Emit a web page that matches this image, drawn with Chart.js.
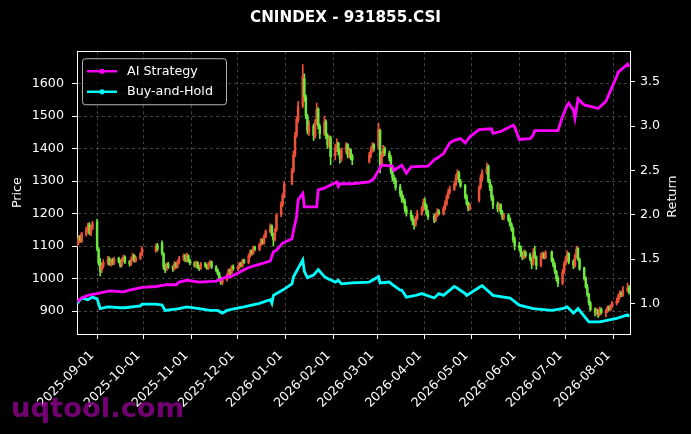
<!DOCTYPE html>
<html><head><meta charset="utf-8">
<script src="https://cdn.jsdelivr.net/npm/chart.js@4.4.1/dist/chart.umd.min.js"></script>
<style>html,body{margin:0;padding:0;background:#000;}canvas{display:block;}</style>
</head><body>
<canvas id="c" width="691" height="434"></canvas>
<script>
// ---------- data ----------
const chartTitle = 'CNINDEX - 931855.CSI';
const firstDay = '2025-08-19';
const lastDay = '2026-08-11';
const holidays = ['2025-10-01','2025-10-02','2025-10-03','2025-10-06','2025-10-07','2025-10-08',
  '2026-01-01','2026-01-02','2026-02-16','2026-02-17','2026-02-18','2026-02-19','2026-02-20','2026-02-23',
  '2026-04-06','2026-05-01','2026-05-04','2026-05-05','2026-06-19'];

const xTickLabels = ['2025-09-01','2025-10-01','2025-11-01','2025-12-01','2026-01-01','2026-02-01',
  '2026-03-01','2026-04-01','2026-05-01','2026-06-01','2026-07-01','2026-08-01'];
const priceTicks = [900,1000,1100,1200,1300,1400,1500,1600];
const returnTicks = [1.0,1.5,2.0,2.5,3.0,3.5];

// one value per trading day (month by month)
const opens = [
  1105,1110,1128,1115,1136,1148,1165,1138,1155,
  1175,1088,1050,1025,1038,1048,1060,1044,1056,1047,1062,1053,1041,1057,1066,1052,1044,1058,1071,1054,1062,1074,
  1085,1102,1110,1076,1040,1030,1044,1036,1030,1046,1037,1050,1060,1071,1056,1070,1056,
  1047,1039,1049,1036,1031,1046,1039,1031,1044,1051,1036,1026,1016,1001,986,996,1009,1026,1017,1036,
  1029,1034,1046,1039,1056,1049,1069,1083,1077,1096,1089,1104,1119,1109,1129,1144,1162,1136,1119,1150,1196,1228,1254,
  1292,1332,1382,1442,1488,1532,1615,1558,1498,1452,1468,1438,1482,1522,1468,1447,1482,1438,1408,1432,
  1378,1398,1416,1392,1368,1394,1412,1378,1396,1376,1360,1378,1394,1412,
  1405,1455,1352,1382,1398,1386,1372,1332,1308,1302,1282,1262,1244,1238,1214,1202,1188,1176,1166,1184,1198,1214,
  1236,1222,1202,1192,1179,1194,1206,1198,1214,1229,1249,1266,1274,1289,1311,1326,1299,1286,1252,1231,1214,
  1240,1282,1308,1326,1345,1298,1282,1248,1227,1213,1227,1204,1188,1196,1182,1166,1152,1122,
  1102,1096,1076,1064,1081,1071,1061,1044,1082,1066,1041,1068,1077,1064,1082,1056,1041,1021,1001,986,1019,
  1046,1059,1077,1052,1038,1068,1092,1058,1032,1001,974,951,924,904,894,902,889,906,894,899,912,904,914,
  924,929,944,956,949,964,972
];
const highs = [
  1120,1132,1133,1142,1158,1170,1172,1164,1176,
  1182,1095,1062,1048,1058,1068,1066,1060,1062,1066,1066,1058,1064,1072,1070,1056,1066,1078,1074,1068,1080,1098,
  1106,1108,1116,1080,1045,1048,1050,1040,1052,1050,1056,1068,1076,1074,1078,1074,1060,
  1052,1054,1052,1040,1050,1050,1044,1050,1056,1054,1040,1030,1020,1005,1000,1015,1030,1030,1040,1042,
  1040,1050,1050,1060,1060,1075,1088,1088,1100,1100,1110,1124,1122,1135,1150,1168,1165,1140,1155,1200,1236,1262,1298,
  1340,1392,1450,1498,1545,1658,1630,1565,1505,1485,1475,1490,1540,1525,1475,1500,1488,1445,1440,1438,
  1412,1430,1420,1398,1402,1418,1415,1402,1400,1382,1388,1405,1418,1415,
  1478,1460,1390,1410,1405,1392,1378,1340,1318,1310,1290,1270,1255,1245,1222,1210,1195,1182,1192,1210,1222,1245,
  1248,1228,1210,1198,1202,1215,1212,1222,1240,1258,1275,1285,1298,1320,1335,1330,1305,1290,1258,1236,1232,
  1285,1320,1335,1355,1350,1305,1288,1255,1235,1232,1230,1210,1200,1200,1188,1172,1158,1128,
  1112,1100,1082,1088,1085,1078,1065,1092,1100,1070,1078,1082,1080,1086,1085,1062,1048,1025,1008,1028,1052,
  1068,1085,1080,1058,1075,1100,1095,1062,1035,1005,982,955,930,910,908,905,912,910,905,915,916,920,930,
  940,952,962,960,975,985,978
];
const lows = [
  1098,1104,1112,1110,1130,1142,1135,1132,1150,
  1085,1040,1008,1018,1032,1042,1040,1038,1042,1043,1048,1035,1036,1052,1046,1038,1040,1054,1050,1050,1058,1070,
  1080,1084,1072,1028,1018,1024,1030,1022,1026,1032,1032,1046,1055,1052,1050,1050,1042,
  1035,1034,1030,1024,1028,1034,1028,1028,1040,1030,1020,1010,996,982,980,992,1005,1012,1014,1025,
  1024,1030,1036,1035,1046,1045,1064,1072,1074,1085,1085,1100,1105,1105,1125,1140,1130,1100,1115,1145,1190,1222,1248,
  1288,1325,1375,1435,1480,1525,1545,1492,1445,1440,1425,1432,1475,1460,1430,1440,1430,1400,1402,1350,
  1365,1390,1380,1355,1360,1385,1372,1370,1365,1350,1355,1372,1388,1392,
  1398,1325,1345,1375,1378,1362,1322,1300,1292,1272,1252,1235,1232,1205,1192,1180,1165,1152,1160,1180,1195,1208,
  1212,1195,1182,1172,1175,1190,1195,1195,1210,1225,1245,1260,1270,1285,1305,1295,1280,1245,1225,1208,1210,
  1235,1275,1300,1320,1295,1270,1240,1215,1205,1208,1198,1182,1180,1175,1160,1145,1112,1088,
  1085,1068,1058,1060,1064,1055,1030,1040,1060,1028,1036,1062,1060,1060,1050,1035,1015,992,975,980,1015,
  1040,1052,1045,1030,1035,1062,1055,1025,995,970,945,918,900,885,888,880,885,890,882,895,900,900,910,
  918,925,938,944,945,958,952
];
const closes = [
  1112,1125,1118,1138,1150,1162,1140,1158,1170,
  1092,1048,1022,1040,1050,1062,1045,1055,1048,1060,1052,1040,1058,1065,1050,1045,1060,1070,1055,1063,1075,1092,
  1100,1090,1078,1035,1028,1042,1035,1030,1045,1038,1050,1062,1070,1058,1072,1055,1048,
  1040,1048,1035,1030,1045,1038,1032,1045,1050,1035,1025,1015,1000,988,995,1010,1025,1018,1035,1030,
  1035,1045,1040,1055,1050,1070,1082,1078,1095,1090,1105,1118,1110,1130,1145,1160,1135,1120,1150,1195,1230,1255,1290,
  1330,1380,1440,1490,1530,1625,1560,1500,1455,1470,1440,1480,1520,1470,1445,1480,1440,1410,1430,1375,
  1400,1415,1390,1370,1395,1410,1380,1395,1375,1365,1380,1395,1410,1400,
  1460,1350,1380,1400,1385,1370,1330,1310,1300,1280,1260,1245,1240,1215,1200,1190,1175,1165,1185,1200,1215,1235,
  1220,1200,1190,1180,1195,1205,1200,1215,1230,1250,1265,1275,1290,1310,1325,1300,1285,1250,1230,1215,1225,
  1280,1310,1325,1340,1300,1280,1250,1225,1215,1225,1205,1190,1195,1180,1165,1150,1120,1100,
  1095,1075,1065,1080,1070,1060,1045,1080,1065,1040,1070,1075,1065,1080,1055,1040,1020,1000,985,1020,1045,
  1060,1075,1050,1040,1070,1090,1060,1030,1000,975,950,925,905,895,900,890,905,895,900,910,905,915,925,
  930,945,955,950,965,970,960
];

const aiDates = ['2025-08-19','2025-08-22','2025-08-26','2025-08-29','2025-09-01','2025-09-09','2025-09-18','2025-09-22',
  '2025-09-30','2025-10-09','2025-10-16','2025-10-22','2025-10-24','2025-10-29','2025-11-06','2025-11-17','2025-11-20',
  '2025-11-24','2025-11-26','2025-12-01','2025-12-04','2025-12-09','2025-12-17','2025-12-22','2025-12-24','2025-12-26',
  '2025-12-30','2026-01-05','2026-01-06','2026-01-08','2026-01-09','2026-01-12','2026-01-13','2026-01-21','2026-01-22',
  '2026-01-26','2026-01-28','2026-02-03','2026-02-04','2026-02-05','2026-02-13','2026-02-24','2026-02-27','2026-03-04',
  '2026-03-11','2026-03-12','2026-03-17','2026-03-20','2026-03-23','2026-04-03','2026-04-07','2026-04-09','2026-04-13',
  '2026-04-17','2026-04-20','2026-04-24','2026-04-27','2026-04-30','2026-05-06','2026-05-14','2026-05-15','2026-05-20',
  '2026-05-28','2026-05-29','2026-06-01','2026-06-08','2026-06-10','2026-06-11','2026-06-26','2026-06-29','2026-07-02',
  '2026-07-03','2026-07-06','2026-07-07','2026-07-09','2026-07-13','2026-07-22','2026-07-27','2026-08-03','2026-08-04',
  '2026-08-10','2026-08-11'];
const aiValues = [1.02,1.06,1.09,1.10,1.11,1.14,1.13,1.15,
  1.18,1.19,1.21,1.21,1.24,1.26,1.24,1.25,1.27,
  1.30,1.30,1.34,1.37,1.41,1.45,1.48,1.58,1.60,
  1.68,1.73,1.82,1.98,2.17,2.24,2.09,2.09,2.28,
  2.30,2.32,2.37,2.32,2.35,2.35,2.37,2.41,2.56,
  2.55,2.50,2.56,2.47,2.54,2.55,2.62,2.64,2.69,
  2.81,2.84,2.86,2.81,2.88,2.96,2.97,2.92,2.94,
  3.01,2.99,2.85,2.86,2.90,2.95,2.95,3.11,3.24,
  3.26,3.18,3.09,3.31,3.24,3.20,3.28,3.56,3.61,
  3.70,3.67];

const bhDates = ['2025-08-19','2025-08-22','2025-08-26','2025-08-29','2025-09-01','2025-09-03','2025-09-08','2025-09-16',
  '2025-09-19','2025-09-29','2025-09-30','2025-10-09','2025-10-13','2025-10-15','2025-10-24','2025-10-29','2025-11-06',
  '2025-11-13','2025-11-18','2025-11-21','2025-11-24','2025-11-26','2025-12-05','2025-12-15','2025-12-22','2025-12-23',
  '2025-12-24','2025-12-30','2026-01-05','2026-01-06','2026-01-12','2026-01-13','2026-01-15','2026-01-19','2026-01-22',
  '2026-01-26','2026-01-28','2026-02-02','2026-02-04','2026-02-06','2026-02-13','2026-02-24','2026-03-02','2026-03-03',
  '2026-03-09','2026-03-11','2026-03-16','2026-03-17','2026-03-20','2026-03-26','2026-03-30','2026-04-07','2026-04-10',
  '2026-04-13','2026-04-20','2026-04-22','2026-04-27','2026-04-28','2026-05-07','2026-05-08','2026-05-15','2026-05-26',
  '2026-06-01','2026-06-10','2026-06-22','2026-06-29','2026-07-02','2026-07-06','2026-07-09','2026-07-16','2026-07-23',
  '2026-08-03','2026-08-10','2026-08-11'];
const bhValues = [1.00,1.06,1.04,1.07,1.05,0.94,0.96,0.95,
  0.95,0.97,0.99,0.99,0.98,0.92,0.94,0.96,0.94,
  0.92,0.92,0.89,0.92,0.93,0.96,1.00,1.04,1.00,
  1.09,1.15,1.22,1.30,1.49,1.36,1.29,1.32,1.38,
  1.30,1.28,1.24,1.26,1.22,1.23,1.24,1.30,1.23,
  1.24,1.21,1.15,1.15,1.07,1.09,1.11,1.06,1.11,
  1.09,1.19,1.17,1.11,1.09,1.19,1.20,1.09,1.06,
  0.98,0.94,0.92,0.94,0.96,0.89,0.94,0.79,0.79,
  0.83,0.87,0.85];

// ---------- helpers ----------
const DAY = 86400000;
const ORIGIN = Date.UTC(2025, 8, 1);
function dayNum(s) { const p = s.split('-').map(Number); return (Date.UTC(p[0], p[1] - 1, p[2]) - ORIGIN) / DAY; }
function tradingDays() {
  const out = [];
  for (let t = ORIGIN + dayNum(firstDay) * DAY; t <= ORIGIN + dayNum(lastDay) * DAY; t += DAY) {
    const d = new Date(t), wd = d.getUTCDay(), s = d.toISOString().slice(0, 10);
    if (wd === 0 || wd === 6 || holidays.includes(s)) continue;
    out.push(s);
  }
  return out;
}
const days = tradingDays();
const n = Math.min(days.length, closes.length);
const UP = '#ee5038', DOWN = '#6ee83c';
const wickPts = [], bodyPts = [], candleColors = [];
for (let i = 0; i < n; i++) {
  const x = dayNum(days[i]);
  wickPts.push({ x, y: [lows[i], highs[i]] });
  bodyPts.push({ x, y: [opens[i], closes[i]] });
  candleColors.push(closes[i] >= opens[i] ? UP : DOWN);
}
const aiPts = aiDates.map((d, i) => ({ x: dayNum(d), y: aiValues[i] }));
const bhPts = bhDates.map((d, i) => ({ x: dayNum(d), y: bhValues[i] }));

const FONT = 'DejaVu Sans';
const TICK = 12.7;
Chart.defaults.font.family = FONT;
Chart.defaults.color = '#ffffff';

const GRID = 'rgba(150,150,150,0.55)';

const decor = {
  id: 'decor',
  beforeDraw(chart) {
    const c = chart.ctx; c.save(); c.fillStyle = '#000'; c.fillRect(0, 0, chart.width, chart.height); c.restore();
  },
  afterDatasetsDraw(chart) {
    const c = chart.ctx, a = chart.chartArea;
    c.save();
    // top spine
    c.strokeStyle = '#fff'; c.lineWidth = 1;
    c.beginPath(); c.moveTo(a.left, Math.round(a.top) + 0.5); c.lineTo(a.right, Math.round(a.top) + 0.5); c.stroke();
    // legend box
    const bx = a.left + 5.5, by = a.top + 7.5, bw = 144, bh = 46;
    c.beginPath(); c.roundRect(bx, by, bw, bh, 3);
    c.fillStyle = 'rgba(0,0,0,0.8)'; c.fill();
    c.strokeStyle = 'rgba(210,210,210,0.85)'; c.lineWidth = 1; c.stroke();
    const items = chart.data.datasets.filter(d => d.type === 'line');
    items.forEach((ds, i) => {
      const y = by + 12.5 + i * 20.5;
      const x0 = bx + 4.5;
      c.strokeStyle = ds.borderColor; c.lineWidth = 2.4;
      c.beginPath(); c.moveTo(x0, y); c.lineTo(x0 + 30, y); c.stroke();
      c.fillStyle = ds.borderColor;
      c.beginPath(); c.arc(x0 + 15, y, 2.6, 0, Math.PI * 2); c.fill();
      c.fillStyle = '#fff'; c.font = TICK + 'px ' + FONT; c.textBaseline = 'middle'; c.textAlign = 'left';
      c.fillText(ds.label, x0 + 40, y);
    });
    c.restore();
  },
  afterDraw(chart) {
    const c = chart.ctx, a = chart.chartArea;
    c.save();
    c.translate(673, (a.top + a.bottom) / 2 + 4);
    c.rotate(-Math.PI / 2);
    c.fillStyle = '#fff'; c.font = TICK + 'px ' + FONT; c.textAlign = 'center'; c.textBaseline = 'middle';
    c.fillText('Return', 0, 0);
    c.restore();
    c.save();
    c.fillStyle = 'rgba(128,0,128,0.9)'; c.font = 'bold 27.4px ' + FONT;
    c.textAlign = 'left'; c.textBaseline = 'alphabetic';
    c.fillText('uqtool.com', 11, 417);
    c.restore();
  }
};

new Chart(document.getElementById('c'), {
  type: 'line',
  data: {
    datasets: [
      { type: 'line', label: 'AI Strategy', data: aiPts, yAxisID: 'y1', borderColor: '#ff00ff',
        borderWidth: 2.8, pointRadius: 0, tension: 0, order: 0 },
      { type: 'line', label: 'Buy-and-Hold', data: bhPts, yAxisID: 'y1', borderColor: '#00ffff',
        borderWidth: 2.8, pointRadius: 0, tension: 0, order: 0 },
      { type: 'bar', label: 'wick', data: wickPts, yAxisID: 'y', backgroundColor: candleColors,
        barThickness: 1, grouped: false, order: 2, borderWidth: 0 },
      { type: 'bar', label: 'body', data: bodyPts, yAxisID: 'y', backgroundColor: candleColors,
        barThickness: 1.8, grouped: false, order: 1, borderWidth: 0, minBarLength: 1 }
    ]
  },
  options: {
    responsive: false, animation: false, devicePixelRatio: 1,
    layout: { padding: 0 },
    plugins: {
      legend: { display: false },
      tooltip: { enabled: false },
      title: { display: true, text: chartTitle, color: '#fff', font: { size: 15.2, weight: 'bold' },
        padding: { top: 9, bottom: 24 } }
    },
    scales: {
      x: {
        type: 'linear', offset: false, min: dayNum(firstDay), max: dayNum(lastDay) + 0.6,
        afterBuildTicks: s => { s.ticks = xTickLabels.map(t => ({ value: dayNum(t) })); },
        ticks: { callback: (v, i) => xTickLabels[i], color: '#fff', font: { size: TICK },
          minRotation: 45, maxRotation: 45, autoSkip: false, padding: 9, labelOffset: -5 },
        grid: { offset: false, color: GRID, lineWidth: 0.8, tickColor: '#fff', tickLength: 5, tickWidth: 1 },
        border: { color: '#fff', width: 1, dash: [3, 3] },
        afterFit: s => { s.height = 100; }
      },
      y: {
        type: 'linear', position: 'left', beginAtZero: false, min: 829.3, max: 1699.3,
        afterBuildTicks: s => { s.ticks = priceTicks.map(v => ({ value: v })); },
        ticks: { color: '#fff', font: { size: TICK }, padding: 8, callback: v => String(v) },
        grid: { color: GRID, lineWidth: 0.8, tickColor: '#fff', tickLength: 5, tickWidth: 1 },
        border: { color: '#fff', width: 1, dash: [3, 3] },
        title: { display: true, text: 'Price', color: '#fff', font: { size: TICK }, padding: { top: 10, bottom: 0 } },
        afterFit: s => { s.width = 77; }
      },
      y1: {
        type: 'linear', position: 'right', beginAtZero: false, min: 0.6537, max: 3.846,
        afterBuildTicks: s => { s.ticks = returnTicks.map(v => ({ value: v })); },
        ticks: { color: '#fff', font: { size: TICK }, padding: 5, callback: v => Number(v).toFixed(1) },
        grid: { drawOnChartArea: false, tickColor: '#fff', tickLength: 5, tickWidth: 1 },
        border: { color: '#fff', width: 1 },
        afterFit: s => { s.width = 61; }
      }
    }
  },
  plugins: [decor]
});
</script>
</body></html>
